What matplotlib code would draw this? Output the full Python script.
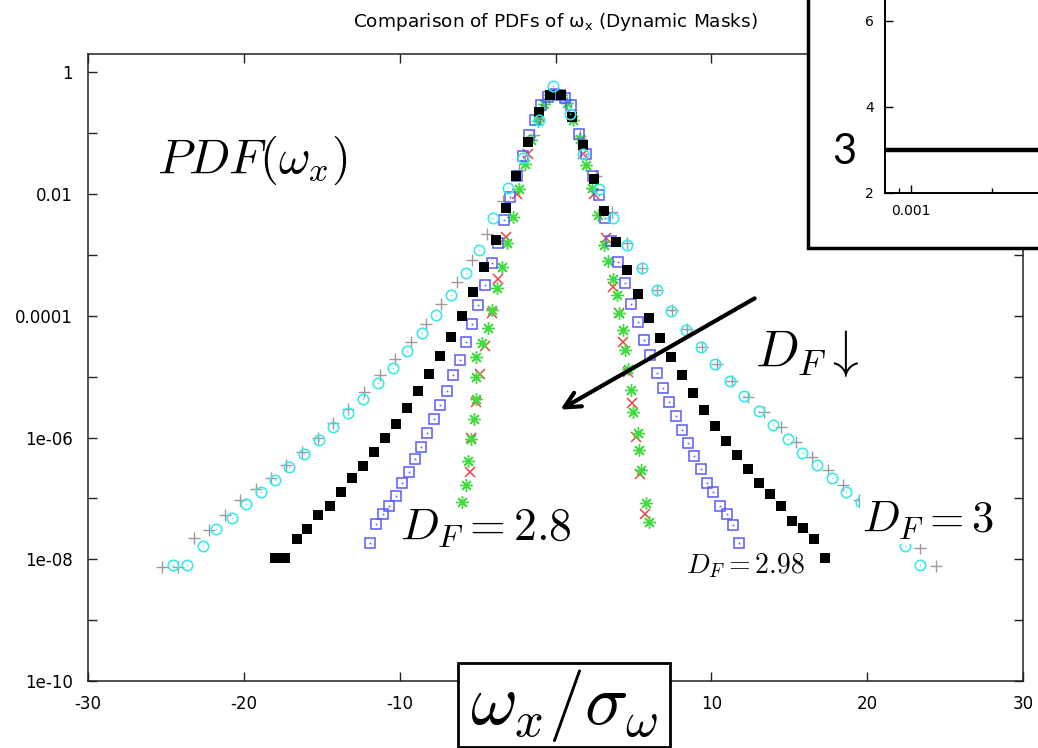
import matplotlib
matplotlib.use("Agg")
import matplotlib.pyplot as plt
import numpy as np
from matplotlib.patches import Rectangle
from matplotlib.ticker import NullFormatter

plt.rcParams['mathtext.fontset'] = 'cm'
plt.rcParams['font.family'] = ['DejaVu Sans']

# ---------------- data (x = omega_x/sigma, y = log10 PDF) ----------------
gray_x = [-25.22, -24.22, -23.21, -22.22, -21.22, -20.26, -19.23, -18.23, -17.27, -16.26,
          -15.24, -14.27, -13.29, -12.29, -11.28, -10.28, -9.29, -8.33, -7.33, -6.33,
          -5.34, -4.38, -3.36, -2.37, -1.40, -0.40, 0.60, 1.60, 2.60, 3.60,
          4.59, 5.53, 6.49, 7.48, 8.42, 9.40, 10.34, 11.32, 12.33, 13.40,
          14.47, 15.43, 16.45, 17.46, 18.48, 19.49, 20.45, 21.42, 22.40, 23.37, 24.40]
gray_logy = [-8.12, -8.12, -7.65, -7.52, -7.27, -7.03, -6.84, -6.66, -6.45, -6.23,
             -6.00, -5.76, -5.53, -5.25, -4.98, -4.71, -4.43, -4.13, -3.80, -3.44,
             -3.08, -2.66, -2.12, -1.60, -1.03, -0.42, -0.45, -1.05, -1.70, -2.30,
             -2.80, -3.22, -3.57, -3.91, -4.21, -4.51, -4.79, -5.07, -5.33, -5.58,
             -5.83, -6.07, -6.32, -6.54, -6.78, -7.03, -7.25, -7.45, -7.62, -7.82, -8.11]

cyan_x = [-24.53, -23.62, -22.65, -21.76, -20.79, -19.87, -18.91, -18.01, -17.10, -16.15,
          -15.19, -14.27, -13.31, -12.35, -11.39, -10.43, -9.51, -8.57, -7.65, -6.73,
          -5.77, -4.94, -4.02, -3.05, -2.10, -1.03, -0.13, 0.90, 1.75, 2.82,
          3.67, 4.59, 5.53, 6.49, 7.42, 8.38, 9.34, 10.26, 11.20, 12.12,
          13.08, 13.97, 14.94, 15.81, 16.77, 17.73, 18.63, 19.59, 20.50, 21.50, 22.44, 23.37]
cyan_logy = [-8.10, -8.10, -7.79, -7.50, -7.32, -7.10, -6.90, -6.69, -6.48, -6.27,
             -6.04, -5.82, -5.59, -5.37, -5.11, -4.85, -4.58, -4.29, -3.99, -3.66,
             -3.30, -2.92, -2.40, -1.90, -1.40, -0.78, -0.225, -0.68, -1.34, -1.91,
             -2.40, -2.84, -3.22, -3.58, -3.92, -4.23, -4.51, -4.79, -5.07, -5.32,
             -5.56, -5.80, -6.02, -6.25, -6.45, -6.66, -6.89, -7.06, -7.30, -7.55, -7.79, -8.10]

black_x = [-18.00, -17.35, -16.62, -15.92, -15.21, -14.49, -13.78, -13.08, -12.37, -11.67,
           -10.96, -10.26, -9.55, -8.85, -8.14, -7.44, -6.73, -6.03, -5.32, -4.60,
           -3.85, -3.16, -2.52, -1.77, -1.09, -0.38, 0.37, 1.06, 1.75, 2.44,
           3.14, 3.89, 4.59, 5.30, 6.00, 6.71, 7.42, 8.12, 8.83, 9.53,
           10.24, 10.94, 11.65, 12.35, 13.06, 13.76, 14.47, 15.17, 15.88, 16.58, 17.28]
black_logy = [-7.975, -7.975, -7.67, -7.50, -7.27, -7.13, -6.90, -6.67, -6.46, -6.24,
              -6.01, -5.78, -5.51, -5.24, -4.96, -4.66, -4.35, -4.00, -3.61, -3.20,
              -2.75, -2.23, -1.70, -1.15, -0.66, -0.38, -0.38, -0.73, -1.20, -1.75,
              -2.28, -2.79, -3.24, -3.65, -4.03, -4.36, -4.67, -4.98, -5.27, -5.55,
              -5.81, -6.06, -6.29, -6.52, -6.74, -6.93, -7.13, -7.37, -7.49, -7.67, -7.98]

blue_x = [-11.88, -11.50, -11.07, -10.69, -10.26, -9.83, -9.40, -9.04, -8.61, -8.23,
          -7.82, -7.39, -6.97, -6.58, -6.15, -5.77, -5.34, -4.98, -4.55, -4.08,
          -3.70, -3.31, -2.91, -2.50, -2.10, -1.67, -1.30, -0.92, -0.50, -0.10,
          0.30, 0.62, 0.99, 1.49, 1.96, 2.40, 2.82, 3.20, 3.55, 4.03,
          4.46, 4.85, 5.27, 5.66, 6.07, 6.49, 6.88, 7.26, 7.73, 8.12,
          8.53, 8.91, 9.34, 9.70, 10.13, 10.58, 10.98, 11.41, 11.79]
blue_logy = [-7.73, -7.42, -7.25, -7.13, -6.96, -6.74, -6.56, -6.36, -6.15, -5.92,
             -5.70, -5.46, -5.23, -4.98, -4.72, -4.43, -4.14, -3.83, -3.50, -3.14,
             -2.80, -2.43, -2.05, -1.70, -1.38, -1.03, -0.78, -0.53, -0.40, -0.36,
             -0.38, -0.42, -0.54, -1.01, -1.34, -1.70, -2.02, -2.39, -2.77, -3.11,
             -3.46, -3.80, -4.10, -4.40, -4.65, -4.94, -5.18, -5.41, -5.65, -5.87,
             -6.09, -6.31, -6.52, -6.74, -6.89, -7.13, -7.26, -7.44, -7.73]

red_x = [-5.51, -5.41, -5.09, -4.85, -4.50, -4.10, -3.70, -3.20, -2.45, -1.75,
         -1.05, -0.35, 0.35, 1.05, 1.75, 2.45, 3.25, 3.67, 4.10, 4.31,
         4.64, 4.92, 5.17, 5.45, 5.77]
red_logy = [-6.56, -6.00, -5.41, -4.95, -4.50, -3.95, -3.40, -2.70, -2.00, -1.35,
            -0.72, -0.38, -0.38, -0.70, -1.35, -2.00, -2.73, -3.52, -3.96, -4.43,
            -4.92, -5.43, -5.99, -6.60, -7.25]

green_x = [-5.98, -5.73, -5.62, -5.41, -5.26, -5.09, -5.09, -5.09, -4.70, -4.30,
           -4.05, -3.75, -3.45, -3.10, -2.75, -2.35, -1.95, -1.55, -1.15, -0.75,
           -0.35, 0.35, 0.75, 1.15, 1.55, 1.95, 2.35, 2.75, 3.14, 3.40,
           3.67, 3.95, 4.10, 4.31, 4.49, 4.64, 4.85, 4.96, 5.28, 5.38,
           5.49, 5.81, 5.98]
green_logy = [-7.06, -6.78, -6.39, -6.03, -5.69, -5.36, -5.00, -4.67, -4.45, -4.20,
              -3.90, -3.55, -3.20, -2.80, -2.37, -1.92, -1.50, -1.12, -0.80, -0.52,
              -0.38, -0.38, -0.50, -0.78, -1.10, -1.52, -1.90, -2.35, -2.84, -3.10,
              -3.39, -3.66, -3.96, -4.24, -4.56, -4.87, -5.22, -5.58, -5.92, -6.21,
              -6.54, -7.08, -7.38]

inset_x = [8e-4, 1e-2]
inset_y = [3, 3]

ytick_vals = [1e-10, 1e-8, 1e-6, 1e-4, 1e-2, 1]
ytick_labels = ['1e-10', '1e-08', '1e-06', '0.0001', '0.01', '1']
xtick_vals = [-30, -20, -10, 0, 10, 20, 30]
xtick_labels = ['-30', '-20', '-10', '', '10', '20', '30']  # "0" is hidden behind the label box

# ---------------- figure ----------------
W, H = 1038, 748
fig = plt.figure(figsize=(W / 100, H / 100), dpi=100)

def fx(px):
    return px / W

def fy(py):
    return 1 - py / H

ax = fig.add_axes([fx(88), fy(681), (1023 - 88) / W, (681 - 54) / H])
ax.set_yscale('log')
ax.set_xlim(-30, 30)
ax.set_ylim(1e-10, 2)

def pw(v):
    return 10.0 ** np.asarray(v)

ax.plot(gray_x, pw(gray_logy), ls='none', marker='+', ms=8, mew=1.0, color='#9a9a9a', zorder=3)
ax.plot(red_x, pw(red_logy), ls='none', marker='x', ms=7, mew=1.1, color='#ee4444', zorder=4)
ax.plot(green_x, pw(green_logy), ls='none', marker=(8, 2, 0), ms=9, mew=1.0, color='#3fdc3f', zorder=4)
ax.plot(blue_x, pw(blue_logy), ls='none', marker='s', ms=7, mew=1.1, mfc='none', mec='#5a5aff', zorder=5)
ax.plot(blue_x, pw(blue_logy), ls='none', marker='s', ms=1.2, mew=0, color='#5a5aff', zorder=5)
ax.plot(black_x, pw(black_logy), ls='none', marker='s', ms=7.5, mew=0, color='black', zorder=6)
ax.plot(cyan_x, pw(cyan_logy), ls='none', marker='o', ms=7.5, mew=1.2, mfc='none', mec='#3de8ea', zorder=7)
ax.plot(cyan_x, pw(cyan_logy), ls='none', marker='o', ms=1.0, mew=0, color='#3de8ea', zorder=7)

ax.set_yticks(ytick_vals)
ax.set_yticklabels(ytick_labels)
ax.set_yticks([1e-9, 1e-7, 1e-5, 1e-3, 1e-1], minor=True)
ax.yaxis.set_minor_formatter(NullFormatter())
ax.set_xticks(xtick_vals)
ax.set_xticklabels(xtick_labels)
ax.tick_params(which='both', direction='in', length=6.5, width=1.0, top=True, right=True,
               labelsize=12, color='#222222')
ax.tick_params(axis='y', pad=11)
ax.tick_params(axis='x', pad=10)
for s in ax.spines.values():
    s.set_linewidth(1.1)
    s.set_color('#222222')

fig.text(fx(555), fy(22), r'Comparison of PDFs of $\mathregular{\omega_x}$ (Dynamic Masks)',
         ha='center', va='center', fontsize=13.3)

# annotations
fig.text(fx(157), fy(173), r'$PDF(\omega_x)$', fontsize=35, ha='left', va='baseline')
fig.text(fx(755), fy(367), r'$D_F\downarrow$', fontsize=37, ha='left', va='baseline')
fig.text(fx(400), fy(540), r'$D_F=2.8$', fontsize=33, ha='left', va='baseline')
fig.text(fx(862), fy(532), r'$D_F=3$', fontsize=32, ha='left', va='baseline',
         bbox=dict(boxstyle='square,pad=0.05', fc='white', ec='none'), zorder=8)
fig.text(fx(686), fy(573), r'$D_F=2.98$', fontsize=20, ha='left', va='baseline')

ax.annotate('', xy=(fx(558), fy(411)), xytext=(fx(757), fy(297)),
            xycoords='figure fraction', textcoords='figure fraction',
            arrowprops=dict(arrowstyle='->', lw=3, color='black', mutation_scale=28),
            zorder=9)

# x label box
lbox = Rectangle((fx(458), fy(747)), (670 - 458) / W, (747 - 663) / H, transform=fig.transFigure,
                 facecolor='white', edgecolor='black', lw=2, zorder=10)
fig.add_artist(lbox)
fig.text(fx(564), fy(706), r'$\omega_x/\sigma_\omega$', fontsize=52, ha='center', va='center',
         zorder=11)

# inset
rect = Rectangle((fx(808), fy(248)), 0.4, 0.5, transform=fig.transFigure,
                 facecolor='white', edgecolor='black', lw=2.5, zorder=10)
fig.add_artist(rect)
iax = fig.add_axes([fx(885), fy(193), 296 / W, 215 / H])
iax.set_zorder(11)
iax.set_xscale('log')
iax.set_xlim(8e-4, 1e-2)
iax.set_ylim(2, 7)
iax.plot(inset_x, inset_y, color='black', lw=3.2)
iax.set_yticks([2, 4, 6])
iax.set_xticks([1e-3])
iax.set_xticklabels(['0.001'])
iax.set_xticks([9e-4, 2e-3], minor=True)
iax.xaxis.set_minor_formatter(NullFormatter())
iax.tick_params(which='major', direction='in', length=6, width=1.0, labelsize=10, pad=8)
iax.tick_params(which='minor', direction='in', length=3.5, width=1.0)
for s in iax.spines.values():
    s.set_linewidth(1.4)
fig.text(fx(844), fy(152), '3', fontsize=30, family='Lato', ha='center', va='center', zorder=12)

fig.savefig('out.png', dpi=100)
